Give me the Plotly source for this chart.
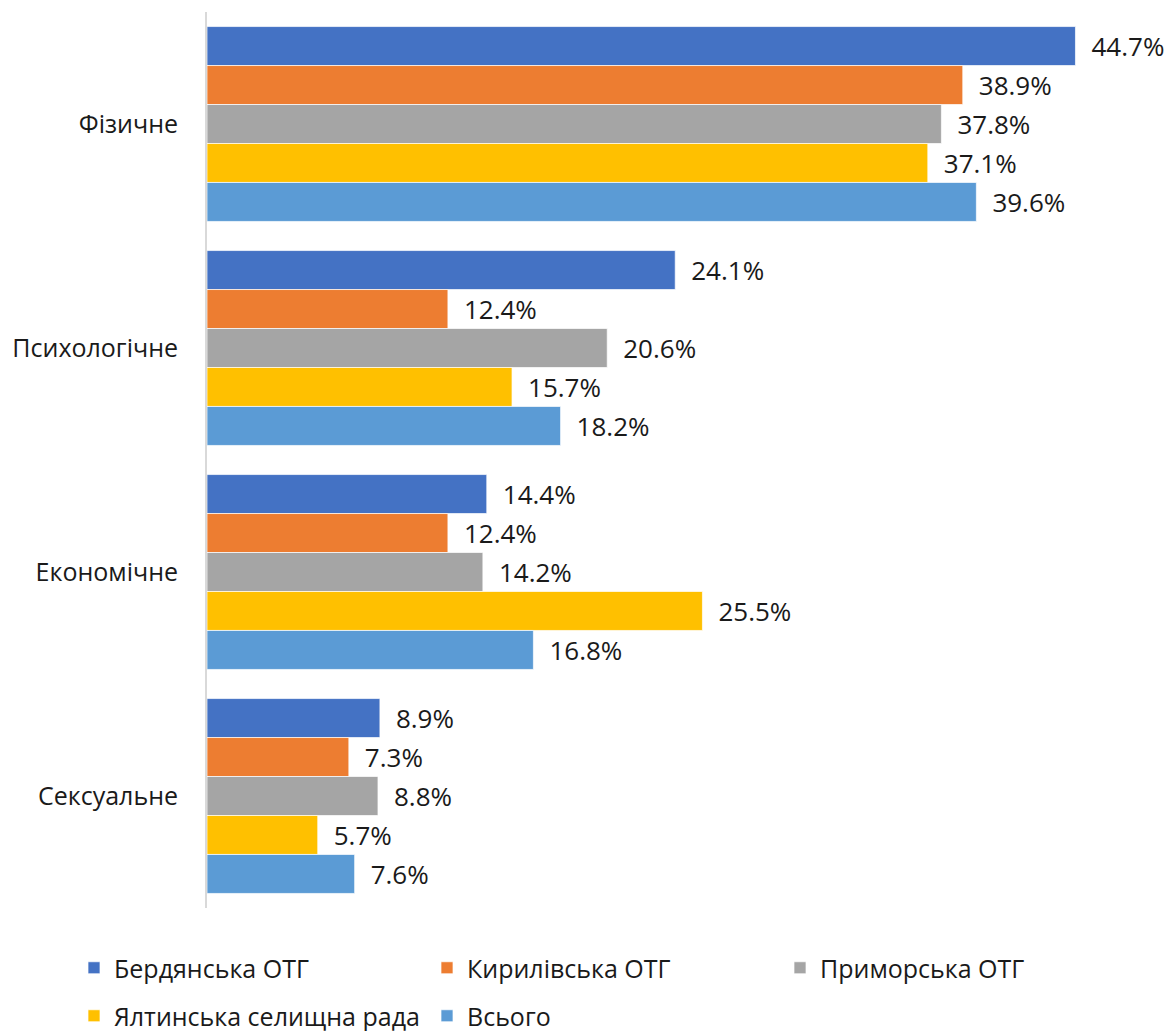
import plotly.graph_objects as go

categories = ["Фізичне", "Психологічне", "Економічне", "Сексуальне"]
series_names = ["Бердянська ОТГ", "Кирилівська ОТГ", "Приморська ОТГ", "Ялтинська селищна рада", "Всього"]
berdiansk = [44.7, 24.1, 14.4, 8.9]
kyrylivka = [38.9, 12.4, 12.4, 7.3]
prymorsk = [37.8, 20.6, 14.2, 8.8]
yalta = [37.1, 15.7, 25.5, 5.7]
total = [39.6, 18.2, 16.8, 7.6]
series_values = [berdiansk, kyrylivka, prymorsk, yalta, total]
colors = ["#4472C4", "#ED7D31", "#A5A5A5", "#FFC000", "#5B9BD5"]
legend_ids = ["legend", "legend", "legend", "legend2", "legend2"]

W, H = 1166, 1023
ML, MR, MT, MB = 199, 15, 4, 123
PW, PH = W - ML - MR, H - MT - MB

fig = go.Figure()
for name, vals, col, lg in zip(series_names, series_values, colors, legend_ids):
    fig.add_trace(go.Bar(
        y=categories, x=vals, name=name, orientation="h",
        marker=dict(color=col, line=dict(color="white", width=0.7)),
        text=[f"\u2002{v:.1f}%" for v in vals], textposition="outside",
        textfont=dict(size=26, color="#1a1a1a", family="Open Sans"),
        cliponaxis=False, legend=lg,
    ))

legend_common = dict(orientation="h", xref="paper", yref="paper",
                     x=(66 - ML) / PW, xanchor="left", yanchor="middle",
                     entrywidth=308, entrywidthmode="pixels",
                     font=dict(size=25, family="Open Sans", color="#1a1a1a"),
                     itemwidth=30, traceorder="normal", bgcolor="rgba(0,0,0,0)")

fig.update_layout(
    barmode="group", bargap=0.13, bargroupgap=0,
    width=W, height=H,
    margin=dict(l=ML, r=MR, t=MT, b=MB, autoexpand=False),
    plot_bgcolor="white", paper_bgcolor="white",
    font=dict(family="Open Sans", size=25, color="#1a1a1a"),
    legend=dict(y=(H - MB - 960) / PH, **legend_common),
    legend2=dict(y=(H - MB - 1008) / PH, **legend_common),
    showlegend=True,
)
fig.update_xaxes(range=[0, 49], showgrid=False, showticklabels=False, zeroline=False,
                 showline=False)
fig.update_yaxes(autorange="reversed", showline=True, linecolor="#D9D9D9", linewidth=2,
                 ticks="", ticklabelstandoff=22, tickfont=dict(size=25))
fig.write_html("out.html")
